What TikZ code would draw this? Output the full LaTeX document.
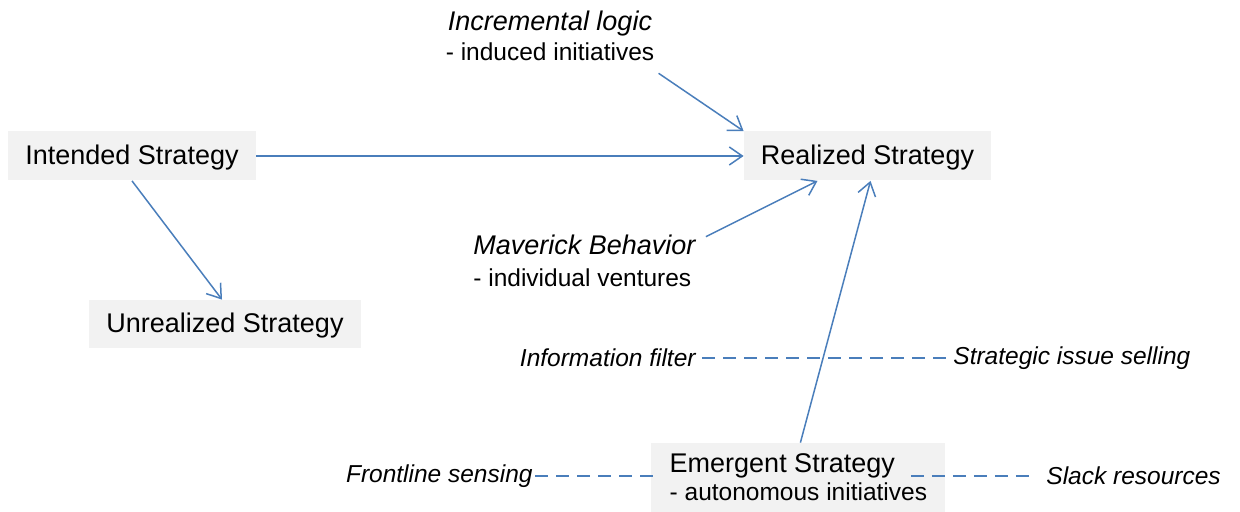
\documentclass[tikz,border=0pt]{standalone}
\usepackage{fontspec}
\setmainfont{Liberation Sans}
\usepackage{xcolor}
\usetikzlibrary{arrows.meta}

\definecolor{linkblue}{HTML}{4A7EBB}
\definecolor{boxgray}{HTML}{F2F2F2}

\newcommand{\mainsize}{\fontsize{13.5}{15}\selectfont}
\newcommand{\subsize}{\fontsize{12.25}{15}\selectfont}

\begin{document}
\begin{tikzpicture}[x=0.5pt, y=-0.5pt,
  stratbox/.style={fill=boxgray, inner sep=0pt, text depth=0.8pt, font=\mainsize},
  note/.style={inner xsep=1pt, inner ysep=0pt, font=\subsize},
  link/.style={linkblue, line width=0.75pt, -{Straight Barb[length=6.5pt,width=9pt]}},
  dashlink/.style={linkblue, line width=0.9pt, dash pattern=on 6.5pt off 4pt}]
\useasboundingbox (0,0) rectangle (1240,512);

\node[stratbox, minimum width=124pt, minimum height=24.5pt] (intended) at (132,156) {Intended Strategy};
\node[stratbox, minimum width=136pt, minimum height=24pt] (unrealized) at (225,324) {Unrealized Strategy};
\node[stratbox, minimum width=123.5pt, minimum height=24.5pt] (realized) at (867.5,156) {Realized Strategy};
\node[stratbox, minimum width=147pt, minimum height=34.5pt, align=left, inner xsep=8.5pt, anchor=west] (emergent) at (651,477.5)
  {Emergent Strategy\\[-1pt]{\subsize - autonomous initiatives}};

\node[note, align=center] (incr) at (550,36) {{\mainsize\itshape Incremental logic}\\{\subsize - induced initiatives}};
\node[note, align=left, anchor=west] (maverick) at (471,261) {{\mainsize\itshape Maverick Behavior}\\[1pt]{\subsize - individual ventures}};

\node[note, anchor=east, font=\subsize\itshape] (infofilter) at (698,358) {Information filter};
\node[note, anchor=west, font=\subsize\itshape] (issue) at (951,358) {Strategic issue selling};
\node[note, anchor=east, font=\subsize\itshape] (frontline) at (535,476) {Frontline sensing};
\node[note, anchor=west, font=\subsize\itshape] (slack) at (1044,476) {Slack resources};

\coordinate (emergentR) at ([xshift=-17.5pt,yshift=0.75pt]emergent.east);

\draw[link] (intended) -- (realized);
\draw[link] (intended.south) -- ([xshift=-1.5pt]unrealized.north);
\draw[link] ([xshift=1pt,yshift=-6pt]incr.south east) -- (realized.north west);
\draw[link] ([xshift=4pt,yshift=-1pt]maverick.north east) -- ([xshift=-25pt]realized.south);
\draw[link] ([xshift=1pt]emergent.north) -- ([xshift=1.5pt]realized.south);

\draw[dashlink] (infofilter.east) ++(2pt,0) -- ([xshift=-1pt]issue.west);
\draw[dashlink] (frontline.east) -- ([yshift=0.75pt]emergent.west) -- ++(3.5pt,0);
\draw[dashlink] (emergentR) -- ([xshift=-5pt]slack.west);

\end{tikzpicture}
\end{document}
